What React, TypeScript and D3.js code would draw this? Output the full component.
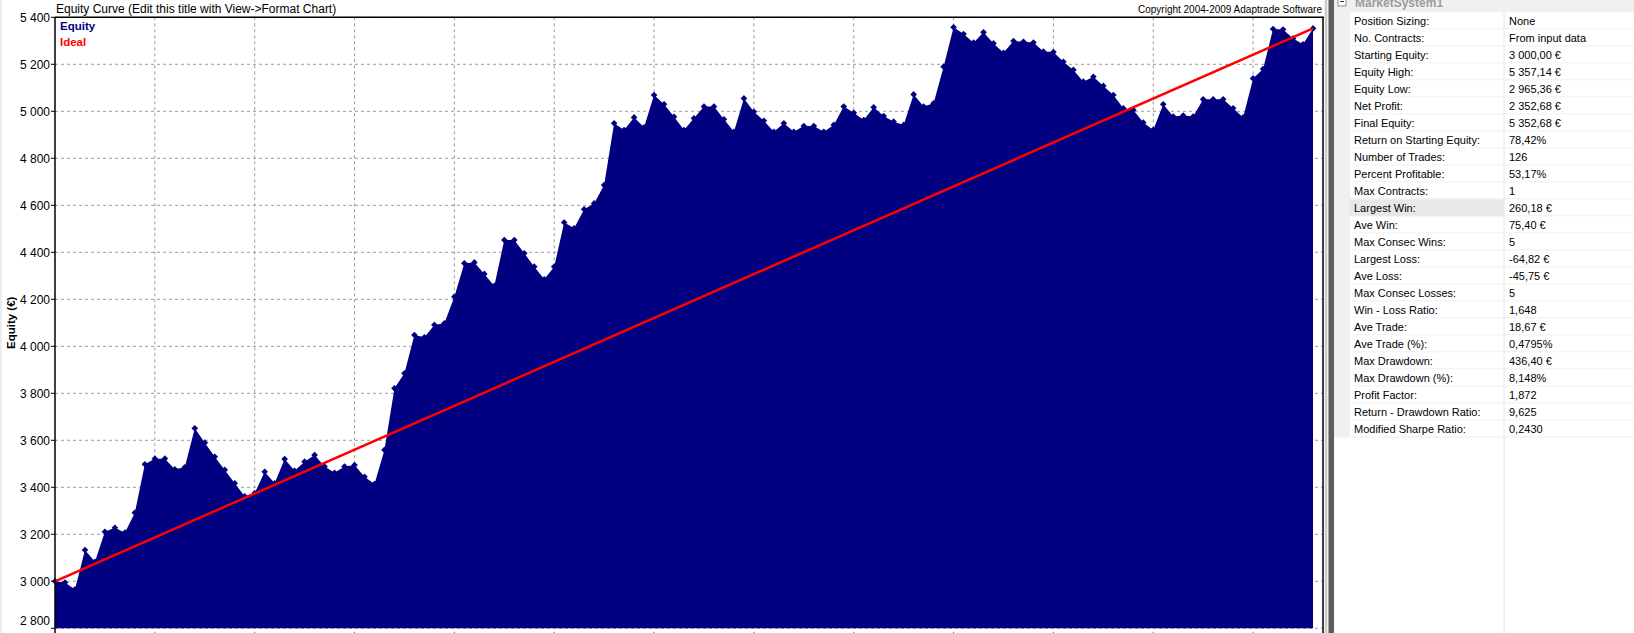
import React from 'react';
import * as d3 from 'd3';

// equity after each trade (trade 0 = starting equity)
const equity = [
  3000, 2995, 2965.36, 3133, 3083, 3211, 3228, 3207, 3292, 3498,
  3522, 3522, 3477, 3485, 3651, 3590, 3530, 3474, 3417, 3362,
  3375, 3466, 3417, 3520, 3470, 3509, 3537, 3488, 3462, 3488,
  3495, 3445, 3414, 3559, 3821, 3885, 4048, 4038, 4091, 4098,
  4211, 4353, 4357, 4308, 4257, 4452, 4452, 4396, 4339, 4285,
  4339, 4527, 4502, 4583, 4608, 4686, 4949, 4920, 4974, 4932,
  5069, 5030, 4977, 4920, 4970, 5020, 5020, 4966, 4913, 5055,
  4998, 4960, 4913, 4949, 4913, 4937, 4937, 4913, 4942, 5020,
  4994, 4963, 5017, 4980, 4956, 4942, 5072, 5020, 5034, 5190,
  5357.14, 5329, 5292, 5336, 5289, 5249, 5299, 5296, 5293, 5254,
  5252, 5211, 5176, 5126, 5147, 5108, 5069, 5013, 5006, 4952,
  4920.74, 5030, 4978, 4982, 4978, 5051, 5051, 5051, 5013, 4974,
  5140, 5180, 5350, 5348, 5310, 5285, 5352.68,
];

// ideal straight line: start and final equity
const idealTrades = [0, 126];
const idealValues = [3000, 5352.68];

const yTickValues = [2800, 3000, 3200, 3400, 3600, 3800, 4000, 4200, 4400, 4600, 4800, 5000, 5200, 5400];

const propNames = [
  'Position Sizing:', 'No. Contracts:', 'Starting Equity:', 'Equity High:', 'Equity Low:',
  'Net Profit:', 'Final Equity:', 'Return on Starting Equity:', 'Number of Trades:',
  'Percent Profitable:', 'Max Contracts:', 'Largest Win:', 'Ave Win:', 'Max Consec Wins:',
  'Largest Loss:', 'Ave Loss:', 'Max Consec Losses:', 'Win - Loss Ratio:', 'Ave Trade:',
  'Ave Trade (%):', 'Max Drawdown:', 'Max Drawdown (%):', 'Profit Factor:',
  'Return - Drawdown Ratio:', 'Modified Sharpe Ratio:',
];
const propValues = [
  'None', 'From input data', '3 000,00 €', '5 357,14 €', '2 965,36 €',
  '2 352,68 €', '5 352,68 €', '78,42%', '126',
  '53,17%', '1', '260,18 €', '75,40 €', '5',
  '-64,82 €', '-45,75 €', '5', '1,648', '18,67 €',
  '0,4795%', '436,40 €', '8,148%', '1,872',
  '9,625', '0,2430',
];

const W = 1634;
const H = 633;
const FONT = "'Liberation Sans', Arial, sans-serif";
const NAVY = '#000080';

const left = 55, top = 17.3, right = 1323, bottom = 628.3;

const fmt = d3.formatLocale({ decimal: ',', thousands: ' ', grouping: [3], currency: ['', ' €'] }).format(',d');

const App = () => {
  const x = d3.scaleLinear().domain([0, 127]).range([left, right]);
  const y = d3.scaleLinear().domain([2800, 5400]).range([bottom, top]);

  const area = d3.area<number>()
    .x((d, i) => x(i))
    .y0(bottom)
    .y1(d => y(d));

  const ideal = d3.line<number>()
    .x((d, i) => x(idealTrades[i]))
    .y(d => y(d));

  const marker = d3.symbol().type(d3.symbolSquare).size(22)();

  const xTicks = x.ticks(13).filter(t => t > 0);

  // property grid geometry
  const pgLeft = 1350, pgDiv = 1504, rowTop = 12.5, rowH = 17;
  const rowsEnd = rowTop + rowH * propNames.length;

  return (
    <div style={{ position: 'absolute', left: 0, top: 0 }}>
      <svg width={W} height={H} style={{ display: 'block', fontFamily: FONT }}>
        <rect x={0} y={0} width={W} height={H} fill="#fff" />
        <rect x={0} y={0} width={2} height={H} fill="#ececec" />

        {/* title + copyright */}
        <text x={56} y={12.5} fontSize={12} fill="#000">Equity Curve (Edit this title with View-&gt;Format Chart)</text>
        <text x={1322} y={12.5} fontSize={10} textAnchor="end" fill="#000">Copyright 2004-2009 Adaptrade Software</text>

        {/* grid */}
        {yTickValues.map(t => (
          <line key={'gy' + t} x1={left} x2={right} y1={y(t)} y2={y(t)} stroke="#9a9a9a" strokeDasharray="3,3" />
        ))}
        {xTicks.map(t => (
          <line key={'gx' + t} x1={x(t)} x2={x(t)} y1={top} y2={bottom} stroke="#9a9a9a" strokeDasharray="3,3" />
        ))}

        {/* equity area */}
        <path d={area(equity) || ''} fill={NAVY} />
        {equity.map((v, i) => (
          <path key={'m' + i} d={marker || ''} transform={`translate(${x(i)},${y(v)}) rotate(45)`} fill={NAVY} />
        ))}

        {/* ideal line */}
        <path d={ideal(idealValues) || ''} fill="none" stroke="#ff0000" strokeWidth={2.5} />

        {/* frame */}
        <line x1={left} x2={right + 1} y1={top} y2={top} stroke="#000" strokeWidth={1.5} />
        <line x1={right} x2={right} y1={top} y2={H} stroke="#000" strokeWidth={1.5} />
        <line x1={left} x2={left} y1={top} y2={H} stroke="#000" strokeWidth={1.5} />
        {xTicks.map(t => (
          <line key={'xt' + t} x1={x(t)} x2={x(t)} y1={bottom + 3.5} y2={H} stroke="#666" />
        ))}

        {/* y axis */}
        {yTickValues.map(t => (
          <g key={'yt' + t}>
            <line x1={left - 4} x2={left} y1={y(t)} y2={y(t)} stroke="#000" />
            <text x={50} y={Math.min(y(t), bottom - 7.5)} dy="0.35em" fontSize={12} textAnchor="end" fill="#000">{fmt(t)}</text>
          </g>
        ))}
        <text transform={`translate(15,${(top + bottom) / 2}) rotate(-90)`} fontSize={11.5} fontWeight="bold" textAnchor="middle" fill="#000">Equity (€)</text>

        {/* legend */}
        <text x={60} y={29.5} fontSize={11.5} fontWeight="bold" fill={NAVY}>Equity</text>
        <text x={60} y={46} fontSize={11.5} fontWeight="bold" fill="#ff0000">Ideal</text>

        {/* splitter */}
        <rect x={right + 1} y={0} width={pgLeft - right - 1} height={H} fill="#f0f0f0" />
        <line x1={1326} x2={1326} y1={0} y2={H} stroke="#a8a8a8" />
        <rect x={1328.5} y={0} width={5.5} height={H} fill="#5e5e5e" />
        <rect x={1334} y={rowsEnd} width={16} height={H - rowsEnd} fill="#fff" />

        {/* property grid */}
        <rect x={pgLeft} y={0} width={W - pgLeft} height={rowTop} fill="#f0f0f0" />
        <rect x={1338} y={-3} width={8} height={9} fill="#fff" stroke="#8c8c8c" />
        <line x1={1340} x2={1344} y1={1.5} y2={1.5} stroke="#333" />
        <text x={1355} y={7} fontSize={12} fontWeight="bold" fill="#9c9c9c">MarketSystem1</text>

        {propNames.map((name, i) => {
          const y0 = rowTop + rowH * i;
          return (
            <g key={'row' + i}>
              <rect x={pgLeft} y={y0} width={pgDiv - pgLeft} height={rowH} fill={i === 11 ? '#e8e8e8' : '#fff'} />
              <rect x={pgDiv} y={y0} width={W - pgDiv} height={rowH} fill="#fff" />
              <line x1={pgLeft} x2={W} y1={y0 + rowH - 0.5} y2={y0 + rowH - 0.5} stroke="#ebebeb" />
              <text x={1354} y={y0 + rowH / 2} dy="0.36em" fontSize={11} fill="#000">{name}</text>
              <text x={1509} y={y0 + rowH / 2} dy="0.36em" fontSize={11} fill="#000">{propValues[i]}</text>
            </g>
          );
        })}
        <line x1={pgDiv} x2={pgDiv} y1={rowTop} y2={H} stroke="#e4e4e4" />
      </svg>
    </div>
  );
};

export default App;
